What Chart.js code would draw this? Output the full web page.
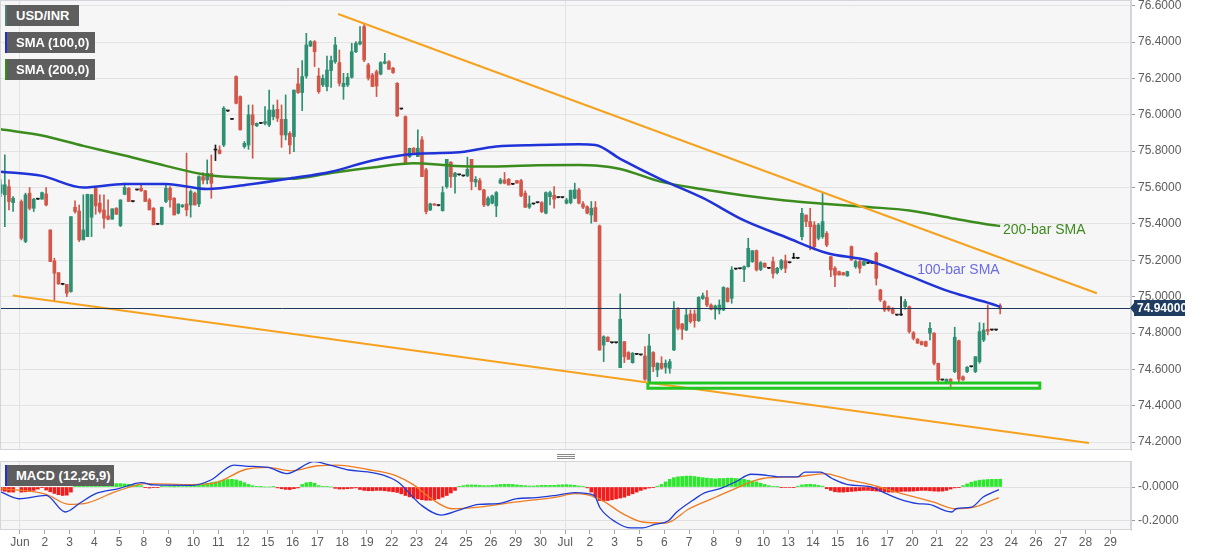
<!DOCTYPE html>
<html lang="en">
<head>
<meta charset="UTF-8" />
<title>USD/INR 4H with SMA and MACD</title>
<script src="https://cdn.jsdelivr.net/npm/chart.js"></script>
<style>
  body { margin: 0; background: #fff; font-family: Arial, "Liberation Sans", sans-serif; }
  .wrap { position: relative; width: 1207px; height: 555px; overflow: hidden; }
  canvas { position: absolute; left: 0; }
  #priceChart { top: 0; }
  #macdChart { top: 455px; }
  .tag {
    position: absolute; left: 5px; height: 21px; line-height: 21px;
    background: #5e5e5e; color: #fff; font-weight: bold; font-size: 13px;
    padding-left: 9px; box-sizing: border-box; border-left: 2px solid;
    white-space: nowrap;
  }
  .grip { position: absolute; left: 557px; width: 18px; height: 1px; background: #8a8a8a; }
</style>
</head>
<body>
<div class="wrap">
  <canvas id="priceChart" width="1207" height="455"></canvas>
  <canvas id="macdChart" width="1207" height="100"></canvas>
  <div class="tag" style="top:5px;width:74px;border-color:#4f7f78">USD/INR</div>
  <div class="tag" style="top:32px;width:90px;border-color:#1f2fd0">SMA (100,0)</div>
  <div class="tag" style="top:59px;width:90px;border-color:#3a8a1a">SMA (200,0)</div>
  <div class="tag" style="top:465px;width:109px;border-color:#1f2fd0">MACD (12,26,9)</div>
  <div class="grip" style="top:454px"></div>
  <div class="grip" style="top:456px"></div>
  <div class="grip" style="top:458px"></div>
</div>

<script>
  // x axis: one label per trading day, 6 four-hour bars per day
  const dayLabels = ['Jun', '2', '3', '4', '5', '8', '9', '10', '11', '12', '15', '16', '17', '18', '19',
    '22', '23', '24', '25', '26', '29', '30', 'Jul', '2', '3', '5', '6', '7', '8', '9', '10', '13', '14',
    '15', '16', '17', '20', '21', '22', '23', '24', '26', '27', '28', '29'];

  // 4H candles, oldest first (null = empty slot over the weekend)
  const opens = [
    75.569, 75.560, 75.605, 75.517, null, 75.523, 75.303, 75.569, 75.486, 75.536,
    75.536, 75.565, 75.367, 75.197, 75.132, 75.068, 75.068, 75.028, 75.492, 75.471,
    75.312, 75.330, 75.437, 75.596, 75.514, 75.477, 75.444, 75.426, 75.486, 75.391,
    75.563, 75.596, 75.523, 75.587, 75.596, 75.582, 75.532, 75.486, 75.398, 75.398,
    75.523, 75.596, 75.541, 75.459, 75.495, 75.510, 75.504, 75.569, 75.510, 75.660,
    75.642, 75.678, 75.806, 75.806, 75.834, 76.021, 75.975, 76.210, 76.100, 75.825,
    75.834, 76.000, 75.939, 75.953, 75.953, 75.944, 75.990, 76.030, 75.975, 75.889,
    75.898, 75.880, 76.170, 76.122, 76.213, 76.378, 76.402, 76.213, 76.164, 76.155,
    76.243, 76.292, 76.287, 76.155, 76.164, 76.206, 76.347, 76.389, 76.485, 76.274,
    76.219, 76.237, 76.224, 76.283, 76.292, 76.256, 76.173, 76.032, 75.990, 75.770,
    75.816, 75.770, 75.862, 75.697, 75.477, 75.510, 75.501, 75.473, 75.605, 75.739,
    75.660, 75.670, 75.664, 75.664, 75.755, 75.630, 75.638, 75.587, 75.504, 75.514,
    75.499, 75.624, 75.642, 75.645, 75.618, 75.638, 75.638, 75.569, 75.492, 75.510,
    75.517, 75.517, 75.459, 75.550, 75.558, 75.545, 75.545, 75.514, 75.517, 75.541,
    75.587, 75.510, 75.495, 75.449, 75.490, 75.389, 74.734, 74.777, 74.747, 74.747,
    74.610, 74.753, 74.693, 74.637, 74.683, 74.680, 74.674, 74.529, 74.693, 74.597,
    74.634, 74.612, 74.606, 74.707, 74.936, 74.850, 74.817, 74.905, 74.905, 74.868,
    74.990, 74.996, 74.954, 74.931, 74.927, 74.927, 75.046, 74.991, 75.152, 75.154,
    75.150, 75.165, 75.193, 75.253, 75.150, 75.184, 75.156, 75.193, 75.132, 75.156,
    75.198, 75.187, 75.211, 75.211, 75.330, 75.449, 75.413, 75.394, 75.321, 75.330,
    75.348, 75.220, 75.156, 75.138, 75.132, 75.114, 75.275, 75.165, 75.193, 75.174,
    75.184, 75.184, 75.239, 75.037, 74.973, 74.945, 74.936, 74.899, 74.899, 74.945,
    74.945, 74.802, 74.766, 74.753, 74.753, 74.799, 74.799, 74.634, 74.542, 74.533,
    74.546, 74.588, 74.758, 74.560, 74.588, 74.615, 74.588, 74.643, 74.762, 74.820,
    74.817, 74.817, 74.950
  ];
  const highs = [
    75.642, 75.780, 75.642, 75.550, null, 75.532, 75.569, 75.600, 75.541, 75.538,
    75.575, 75.600, 75.367, 75.211, 75.132, 75.070, 75.068, 75.440, 75.527, 75.504,
    75.560, 75.563, 75.563, 75.605, 75.560, 75.560, 75.532, 75.483, 75.490, 75.532,
    75.624, 75.600, 75.525, 75.589, 75.618, 75.585, 75.540, 75.490, 75.400, 75.492,
    75.615, 75.605, 75.545, 75.510, 75.506, 75.789, 75.587, 75.575, 75.665, 75.682,
    75.752, 75.779, 75.834, 75.829, 76.045, 76.023, 75.977, 76.214, 76.104, 75.853,
    76.054, 76.054, 75.955, 75.955, 76.045, 76.136, 76.054, 76.081, 76.054, 76.109,
    75.907, 76.136, 76.256, 76.298, 76.448, 76.408, 76.408, 76.256, 76.219, 76.323,
    76.323, 76.426, 76.356, 76.228, 76.228, 76.393, 76.402, 76.485, 76.503, 76.283,
    76.228, 76.246, 76.292, 76.338, 76.298, 76.261, 76.177, 76.034, 75.994, 75.816,
    75.820, 75.917, 75.880, 75.706, 75.514, 75.512, 75.503, 75.605, 75.755, 75.743,
    75.683, 75.672, 75.666, 75.767, 75.755, 75.660, 75.651, 75.590, 75.550, 75.559,
    75.578, 75.651, 75.683, 75.650, 75.620, 75.640, 75.645, 75.582, 75.554, 75.512,
    75.519, 75.523, 75.576, 75.580, 75.605, 75.547, 75.547, 75.541, 75.587, 75.624,
    75.596, 75.523, 75.499, 75.523, 75.523, 75.394, 74.785, 74.780, 74.749, 74.749,
    75.015, 74.753, 74.698, 74.693, 74.685, 74.682, 74.725, 74.793, 74.698, 74.637,
    74.670, 74.652, 74.656, 74.973, 74.940, 74.854, 74.936, 74.927, 74.927, 75.000,
    75.020, 75.033, 74.960, 74.954, 74.982, 75.055, 75.050, 75.165, 75.154, 75.156,
    75.169, 75.321, 75.253, 75.257, 75.193, 75.186, 75.158, 75.217, 75.161, 75.205,
    75.229, 75.189, 75.239, 75.213, 75.486, 75.449, 75.486, 75.413, 75.403, 75.568,
    75.358, 75.220, 75.165, 75.140, 75.134, 75.140, 75.279, 75.202, 75.202, 75.195,
    75.186, 75.186, 75.244, 75.041, 74.978, 74.950, 74.940, 74.901, 75.000, 74.986,
    74.949, 74.808, 74.770, 74.756, 74.756, 74.857, 74.802, 74.634, 74.544, 74.548,
    74.550, 74.832, 74.762, 74.565, 74.615, 74.617, 74.670, 74.857, 74.854, 74.955,
    74.819, 74.819, 74.960
  ];
  const lows = [
    75.550, 75.385, 75.477, 75.468, null, 75.312, 75.297, 75.477, 75.468, 75.534,
    75.536, 75.499, 75.193, 74.978, 75.068, 75.065, 75.000, 75.025, 75.459, 75.303,
    75.312, 75.330, 75.330, 75.453, 75.459, 75.376, 75.422, 75.426, 75.453, 75.385,
    75.560, 75.523, 75.521, 75.585, 75.578, 75.523, 75.477, 75.395, 75.396, 75.395,
    75.517, 75.492, 75.449, 75.455, 75.490, 75.444, 75.437, 75.504, 75.495, 75.620,
    75.620, 75.541, 75.748, 75.784, 75.825, 76.019, 75.973, 76.060, 75.916, 75.816,
    75.810, 75.761, 75.935, 75.951, 75.944, 75.935, 75.972, 75.963, 75.821, 75.862,
    75.785, 75.797, 76.118, 76.023, 76.201, 76.375, 76.265, 76.118, 76.155, 76.131,
    76.151, 76.283, 76.158, 76.085, 76.155, 76.201, 76.342, 76.384, 76.292, 76.191,
    76.155, 76.100, 76.219, 76.280, 76.250, 76.228, 75.990, 76.030, 75.730, 75.765,
    75.786, 75.770, 75.660, 75.455, 75.473, 75.502, 75.499, 75.470, 75.596, 75.601,
    75.569, 75.668, 75.662, 75.660, 75.587, 75.605, 75.587, 75.495, 75.499, 75.510,
    75.440, 75.620, 75.620, 75.614, 75.616, 75.624, 75.550, 75.490, 75.485, 75.508,
    75.515, 75.462, 75.455, 75.504, 75.486, 75.543, 75.543, 75.510, 75.510, 75.538,
    75.510, 75.484, 75.455, 75.404, 75.413, 74.705, 74.643, 74.752, 74.745, 74.745,
    74.610, 74.637, 74.655, 74.634, 74.681, 74.678, 74.539, 74.520, 74.588, 74.560,
    74.601, 74.579, 74.579, 74.703, 74.817, 74.765, 74.813, 74.854, 74.832, 74.863,
    74.985, 74.945, 74.927, 74.876, 74.905, 74.923, 74.970, 74.964, 75.150, 75.152,
    75.083, 75.162, 75.188, 75.141, 75.143, 75.161, 75.154, 75.101, 75.125, 75.147,
    75.132, 75.185, 75.209, 75.209, 75.312, 75.385, 75.257, 75.257, 75.312, 75.321,
    75.275, 75.110, 75.055, 75.119, 75.119, 75.112, 75.198, 75.156, 75.130, 75.170,
    75.182, 75.182, 75.064, 74.973, 74.918, 74.920, 74.905, 74.897, 74.897, 74.931,
    74.799, 74.762, 74.744, 74.735, 74.725, 74.762, 74.625, 74.533, 74.540, 74.530,
    74.505, 74.582, 74.527, 74.540, 74.582, 74.613, 74.582, 74.634, 74.753, 74.790,
    74.815, 74.815, 74.905
  ];
  const closes = [
    75.615, 75.615, 75.523, 75.541, null, 75.321, 75.560, 75.486, 75.536, 75.536,
    75.572, 75.504, 75.193, 75.129, 75.070, 75.068, 75.019, 75.440, 75.468, 75.312,
    75.367, 75.563, 75.560, 75.499, 75.468, 75.431, 75.426, 75.483, 75.453, 75.532,
    75.600, 75.523, 75.523, 75.587, 75.582, 75.523, 75.477, 75.395, 75.398, 75.492,
    75.596, 75.532, 75.449, 75.510, 75.504, 75.477, 75.578, 75.504, 75.660, 75.640,
    75.678, 75.623, 75.806, 75.788, 76.036, 76.021, 75.975, 76.063, 75.917, 75.843,
    76.000, 75.944, 75.953, 75.953, 75.962, 76.026, 76.026, 75.981, 75.889, 75.975,
    75.834, 76.136, 76.122, 76.210, 76.384, 76.402, 76.347, 76.127, 76.201, 76.246,
    76.298, 76.384, 76.173, 76.173, 76.206, 76.347, 76.393, 76.402, 76.301, 76.201,
    76.155, 76.158, 76.287, 76.292, 76.250, 76.232, 75.994, 76.032, 75.733, 75.816,
    75.788, 75.816, 75.660, 75.468, 75.510, 75.503, 75.501, 75.572, 75.755, 75.660,
    75.679, 75.670, 75.664, 75.700, 75.633, 75.645, 75.587, 75.504, 75.541, 75.554,
    75.572, 75.642, 75.624, 75.614, 75.618, 75.624, 75.554, 75.492, 75.510, 75.510,
    75.517, 75.468, 75.572, 75.572, 75.536, 75.545, 75.545, 75.532, 75.584, 75.587,
    75.514, 75.492, 75.459, 75.486, 75.413, 74.707, 74.780, 74.753, 74.747, 74.747,
    74.876, 74.670, 74.656, 74.689, 74.683, 74.680, 74.546, 74.729, 74.615, 74.634,
    74.606, 74.634, 74.643, 74.927, 74.826, 74.821, 74.899, 74.863, 74.868, 74.996,
    75.005, 74.954, 74.931, 74.949, 74.954, 75.051, 74.973, 75.147, 75.152, 75.154,
    75.165, 75.266, 75.253, 75.147, 75.187, 75.162, 75.156, 75.128, 75.156, 75.198,
    75.156, 75.187, 75.211, 75.211, 75.458, 75.413, 75.385, 75.275, 75.394, 75.413,
    75.284, 75.147, 75.119, 75.119, 75.119, 75.138, 75.202, 75.193, 75.156, 75.193,
    75.184, 75.184, 75.101, 74.982, 74.927, 74.927, 74.909, 74.899, 74.899, 74.973,
    74.808, 74.771, 74.744, 74.735, 74.728, 74.826, 74.634, 74.542, 74.542, 74.546,
    74.524, 74.777, 74.546, 74.542, 74.612, 74.615, 74.670, 74.808, 74.817, 74.810,
    74.817, 74.817, 74.940
  ];

  // moving averages at these bar numbers
  const smaIdx = [0, 10, 20, 30, 40, 50, 60, 70, 80, 90, 100, 110, 120, 130, 140, 144, 150,
    160, 170, 180, 190, 200, 210, 220, 230, 240, 242];
  const sma100 = [75.687, 75.664, 75.600, 75.620, 75.620, 75.592, 75.617, 75.650, 75.687, 75.749,
    75.785, 75.792, 75.826, 75.834, 75.838, 75.834, 75.758, 75.644, 75.543, 75.419, 75.328,
    75.240, 75.199, 75.114, 75.026, 74.960, 74.944];
  const sma200 = [75.920, 75.886, 75.829, 75.776, 75.719, 75.669, 75.653, 75.648, 75.680, 75.710,
    75.734, 75.719, 75.716, 75.722, 75.724, 75.721, 75.702, 75.631, 75.590, 75.556, 75.529,
    75.510, 75.493, 75.474, 75.433, 75.394, 75.389];

  // hand-drawn lines: [bar, price] end points
  const upperTrend = [[81.7, 76.554], [265.4, 75.019]];
  const lowerTrend = [[2.9, 75.006], [263.5, 74.196]];
  const zoneBars = [156.7, 251.6];
  const zonePrices = [74.497, 74.525];
  const lastPrice = 74.94;

  const yTicks = [74.2, 74.4, 74.6, 74.8, 75.0, 75.2, 75.4, 75.6, 75.8, 76.0, 76.2, 76.4, 76.6];

  // MACD (12,26,9)
  const macdHist = [
    -0.02, -0.025, -0.03, -0.03, null, -0.03, -0.028, -0.025, -0.02, -0.012,
    -0.004, -0.018, -0.028, -0.038, -0.045, -0.05, -0.048, -0.03, 0.01, 0.018,
    0.025, 0.03, 0.034, 0.035, 0.033, 0.03, 0.025, 0.022, 0.02, 0.02,
    0.018, 0.016, 0.014, 0.012, 0.008, -0.004, -0.006, -0.004, -0.002, 0.002,
    0.003, 0.002, 0.001, 0.002, 0.003, 0.004, 0.006, 0.01, 0.014, 0.018,
    0.022, 0.026, 0.03, 0.035, 0.04, 0.044, 0.045, 0.042, 0.035, 0.025,
    0.015, 0.008, 0.004, 0.001, 0, 0, 0.001, -0.005, -0.01, -0.014,
    -0.015, -0.01, -0.005, 0.015, 0.025, 0.028, 0.022, 0.008, 0.004, 0.002,
    0, -0.008, -0.012, -0.012, -0.01, -0.008, -0.005, -0.015, -0.02, -0.022,
    -0.022, -0.02, -0.02, -0.022, -0.025, -0.028, -0.032, -0.04, -0.05, -0.058,
    -0.065, -0.07, -0.075, -0.078, -0.078, -0.075, -0.07, -0.06, -0.05, -0.035,
    -0.02, 0.004, 0.008, 0.012, 0.012, 0.012, 0.01, 0.008, 0.008, 0.01,
    0.012, 0.015, 0.016, 0.016, 0.015, 0.012, 0.01, 0.008, 0.006, 0.006,
    0.008, 0.01, 0.01, 0.01, 0.01, 0.012, 0.013, 0.014, 0.012, 0.01,
    0.006, 0.002, -0.005, -0.03, -0.06, -0.08, -0.082, -0.08, -0.075, -0.07,
    -0.065, -0.06, -0.05, -0.04, -0.03, -0.02, -0.012, -0.006, -0.002, 0.005,
    0.015, 0.03, 0.045, 0.055, 0.06, 0.062, 0.064, 0.064, 0.062, 0.058,
    0.055, 0.052, 0.05, 0.048, 0.05, 0.05, 0.052, 0.052, 0.05, 0.048,
    0.045, 0.04, 0.035, 0.03, 0.022, 0.015, 0.008, 0.004, 0.001, -0.002,
    -0.003, -0.003, -0.002, 0.005, 0.012, 0.015, 0.016, 0.014, 0.01, 0.005,
    -0.01, -0.02, -0.028, -0.03, -0.03, -0.028, -0.026, -0.024, -0.022, -0.02,
    -0.02, -0.022, -0.024, -0.026, -0.028, -0.03, -0.03, -0.028, -0.026, -0.025,
    -0.025, -0.024, -0.022, -0.02, -0.02, -0.022, -0.024, -0.025, -0.024, -0.02,
    -0.012, -0.005, -0.002, 0.008, 0.018, 0.028, 0.035, 0.04, 0.042, 0.044,
    0.045, 0.045, 0.046
  ];
  const macdIdx = [0, 4.4, 11, 15.6, 19.2, 23, 28.6, 34.2, 36.9, 46.3, 50.9, 56.5, 59.2, 64.7, 69.3,
    75.9, 79.7, 84.3, 88.9, 92.6, 96.2, 101.8, 106.6, 111.2, 115.8, 120.4, 125, 129.6, 134.5, 139,
    143.7, 145.1, 148.9, 152.6, 155.4, 158.2, 161.6, 163.7, 167.6, 170.4, 174.2, 177.9, 181.7, 185.4,
    188.2, 192.9, 194.7, 198.5, 201.3, 205.1, 210.7, 213.5, 217.3, 222, 224.8, 228.5, 230.3, 231.3,
    235.1, 237.9, 241.7];
  const macdLine = [-0.029, -0.069, -0.049, -0.147, -0.094, -0.039, -0.009, 0.026, 0.012, 0.010,
    0.041, 0.129, 0.123, 0.115, 0.079, 0.149, 0.129, 0.100, 0.089, 0.070, 0.029, -0.106, -0.165,
    -0.134, -0.102, -0.098, -0.069, -0.063, -0.049, -0.033, -0.049, -0.122, -0.206, -0.241, -0.241,
    -0.221, -0.200, -0.147, -0.078, -0.035, -0.009, 0.030, 0.075, 0.069, 0.060, 0.060, 0.088, 0.088,
    0.050, 0.014, 0.001, -0.029, -0.069, -0.098, -0.102, -0.138, -0.147, -0.128, -0.118, -0.059, -0.015];
  const signalIdx = [0, 11, 16.5, 20.2, 27.7, 35.2, 46.3, 51.9, 59.2, 64.7, 70.3, 76.8, 81.4, 88.9,
    95.5, 100.1, 103.7, 109.3, 115.8, 125, 134.5, 139, 144.6, 150.7, 155.4, 161.1, 166.7, 173.2,
    178.8, 184.5, 192.8, 199.5, 205.1, 210.7, 218.2, 225.7, 231.3, 235.1, 241.7];
  const signalLine = [-0.009, -0.043, -0.102, -0.098, -0.029, 0.020, 0.014, 0.024, 0.103, 0.115,
    0.095, 0.125, 0.129, 0.103, 0.069, 0.011, -0.059, -0.128, -0.118, -0.088, -0.059, -0.039, -0.065,
    -0.158, -0.206, -0.212, -0.128, -0.059, 0.001, 0.050, 0.060, 0.079, 0.044, 0.014, -0.039, -0.088,
    -0.128, -0.122, -0.063];
  const macdTicks = [-0.2, 0];

  // ---- layout constants ----
  const X_MIN = -0.17, X_MAX = 273.68;
  const FIRST_DAY_AT = 4.67, BARS_PER_DAY = 6;
  const AXIS_W = 76;
  const FONT = 'Arial, "Liberation Sans", sans-serif';
  const UP = '#2f8f72', DOWN = '#d2574a', FLAT = '#1c1c1c';

  Chart.defaults.font.family = FONT;
  Chart.defaults.font.size = 12;
  Chart.defaults.color = '#5c5c5c';

  const bars = opens.map((o, i) => i).filter(i => opens[i] !== null);
  const candleColor = bars.map(i => {
    const d = closes[i] - opens[i];
    if (Math.abs(d) < 0.003) return FLAT;
    return d > 0 ? UP : DOWN;
  });

  const pts = (xs, ys) => xs.map((x, k) => ({ x: x, y: ys[k] }));

  function setDayTicks(scale) {
    scale.ticks = dayLabels.map((_, k) => ({ value: FIRST_DAY_AT + k * BARS_PER_DAY }));
  }
  const monthGrid = ctx => (['Jun', 'Jul'].includes(dayLabels[ctx.index]) ? '#e2e2e2' : 'rgba(0,0,0,0)');

  const panelFrame = {
    id: 'panelFrame',
    beforeDraw(chart) {
      const { ctx, chartArea: a } = chart;
      ctx.save();
      ctx.fillStyle = '#f6f6f6';
      ctx.fillRect(a.left, a.top, a.width, a.height);
      ctx.restore();
    },
    afterDraw(chart) {
      const { ctx, chartArea: a } = chart;
      ctx.save();
      ctx.strokeStyle = '#d2d5da';
      ctx.lineWidth = 1;
      ctx.strokeRect(a.left + 0.5, a.top + 0.5, a.width - 1, a.height - 1);
      ctx.restore();
    }
  };

  const priceMarks = {
    id: 'priceMarks',
    afterDatasetsDraw(chart) {
      const { ctx, chartArea: a, scales: { x, y } } = chart;
      ctx.save();
      const py = Math.round(y.getPixelForValue(lastPrice)) + 0.5;
      ctx.strokeStyle = '#1e3658';
      ctx.lineWidth = 1;
      ctx.beginPath();
      ctx.moveTo(a.left, py);
      ctx.lineTo(a.right, py);
      ctx.stroke();

      ctx.font = '14px ' + FONT;
      ctx.textBaseline = 'middle';
      ctx.fillStyle = '#3d8a1f';
      ctx.fillText('200-bar SMA', x.getPixelForValue(242.7), y.getPixelForValue(75.364));
      ctx.fillStyle = '#6b6be4';
      ctx.fillText('100-bar SMA', x.getPixelForValue(221.9), y.getPixelForValue(75.144));
      ctx.restore();
    },
    afterDraw(chart) {
      const { ctx, chartArea: a, scales: { y } } = chart;
      const py = Math.round(y.getPixelForValue(lastPrice));
      ctx.save();
      ctx.fillStyle = '#1f3c61';
      ctx.beginPath();
      ctx.moveTo(a.right - 1, py);
      ctx.lineTo(a.right + 3, py - 5);
      ctx.lineTo(a.right + 3, py - 8);
      ctx.lineTo(a.right + 54, py - 8);
      ctx.lineTo(a.right + 54, py + 8);
      ctx.lineTo(a.right + 3, py + 8);
      ctx.lineTo(a.right + 3, py + 5);
      ctx.closePath();
      ctx.fill();
      ctx.fillStyle = '#fff';
      ctx.font = 'bold 12px ' + FONT;
      ctx.textBaseline = 'middle';
      ctx.fillText(lastPrice.toFixed(5), a.right + 6, py + 1);
      ctx.restore();
    }
  };

  new Chart(document.getElementById('priceChart'), {
    type: 'bar',
    data: {
      datasets: [
        {
          type: 'line', order: 0,
          data: [
            { x: zoneBars[0], y: zonePrices[1] }, { x: zoneBars[1], y: zonePrices[1] },
            { x: zoneBars[1], y: zonePrices[0] }, { x: zoneBars[0], y: zonePrices[0] },
            { x: zoneBars[0], y: zonePrices[1] }
          ],
          borderColor: '#22c722', borderWidth: 3, pointRadius: 0, tension: 0
        },
        {
          type: 'line', order: 1, data: upperTrend.map(p => ({ x: p[0], y: p[1] })),
          borderColor: '#f6a21e', borderWidth: 2, pointRadius: 0
        },
        {
          type: 'line', order: 1, data: lowerTrend.map(p => ({ x: p[0], y: p[1] })),
          borderColor: '#f6a21e', borderWidth: 2, pointRadius: 0
        },
        {
          type: 'line', order: 2, data: pts(smaIdx, sma100),
          borderColor: '#1f33d8', borderWidth: 2.5, pointRadius: 0, cubicInterpolationMode: 'monotone'
        },
        {
          type: 'line', order: 2, data: pts(smaIdx, sma200),
          borderColor: '#3b8c1c', borderWidth: 2.5, pointRadius: 0, cubicInterpolationMode: 'monotone'
        },
        {
          order: 4, grouped: false, barThickness: 1,
          data: bars.map(i => ({ x: i, y: [lows[i], highs[i]] })),
          backgroundColor: candleColor
        },
        {
          order: 3, grouped: false, barThickness: 3, minBarLength: 1,
          data: bars.map(i => ({ x: i, y: [opens[i], closes[i]] })),
          backgroundColor: candleColor
        }
      ]
    },
    options: {
      responsive: false, animation: false,
      layout: { padding: { top: 0, left: 0, right: 0, bottom: 5 } },
      plugins: { legend: { display: false }, tooltip: { enabled: false } },
      scales: {
        x: {
          type: 'linear', min: X_MIN, max: X_MAX, offset: false,
          afterBuildTicks: setDayTicks,
          afterFit(s) { s.height = 0; s.paddingLeft = 0; s.paddingRight = 0; },
          ticks: { display: false },
          grid: { color: monthGrid, drawTicks: false, offset: false },
          border: { display: false }
        },
        y: {
          position: 'right', min: 74.157, max: 76.631,
          afterBuildTicks(s) { s.ticks = yTicks.map(v => ({ value: v })); },
          afterFit(s) { s.width = AXIS_W; s.paddingTop = 0; s.paddingBottom = 0; },
          ticks: { padding: 3, callback: v => Number(v).toFixed(4) },
          grid: { color: '#e3e3e3', tickLength: 4, tickColor: '#9a9a9a' },
          border: { color: '#d2d5da' }
        }
      }
    },
    plugins: [panelFrame, priceMarks]
  });

  new Chart(document.getElementById('macdChart'), {
    type: 'bar',
    data: {
      datasets: [
        {
          type: 'line', order: 0, data: pts(macdIdx, macdLine),
          borderColor: '#1d3bd8', borderWidth: 1.3, pointRadius: 0, cubicInterpolationMode: 'monotone'
        },
        {
          type: 'line', order: 1, data: pts(signalIdx, signalLine),
          borderColor: '#f07c22', borderWidth: 1.3, pointRadius: 0, cubicInterpolationMode: 'monotone'
        },
        {
          order: 2, grouped: false, barThickness: 3,
          data: bars.map(i => ({ x: i, y: [0, macdHist[i]] })),
          backgroundColor: bars.map(i => (macdHist[i] >= 0 ? '#2ee62e' : '#f21c1c'))
        }
      ]
    },
    options: {
      responsive: false, animation: false,
      layout: { padding: { top: 6, left: 0, right: 0, bottom: 0 } },
      plugins: { legend: { display: false }, tooltip: { enabled: false } },
      scales: {
        x: {
          type: 'linear', min: X_MIN, max: X_MAX, offset: false,
          afterBuildTicks: setDayTicks,
          afterFit(s) { s.height = 25; s.paddingLeft = 0; s.paddingRight = 0; },
          ticks: { autoSkip: false, maxRotation: 0, padding: 1, callback: (v, k) => dayLabels[k] },
          grid: { color: monthGrid, tickLength: 4, tickColor: '#a5a5a5', offset: false },
          border: { display: false }
        },
        y: {
          position: 'right', min: -0.253, max: 0.153,
          afterBuildTicks(s) { s.ticks = macdTicks.map(v => ({ value: v })); },
          afterFit(s) { s.width = AXIS_W; s.paddingTop = 0; s.paddingBottom = 0; },
          ticks: { padding: 3, callback: v => (v <= 0 ? '-' : '') + Math.abs(v).toFixed(4) },
          grid: { color: '#e0e0e0', tickLength: 4, tickColor: '#9a9a9a' },
          border: { color: '#d2d5da' }
        }
      }
    },
    plugins: [panelFrame]
  });
</script>
</body>
</html>
